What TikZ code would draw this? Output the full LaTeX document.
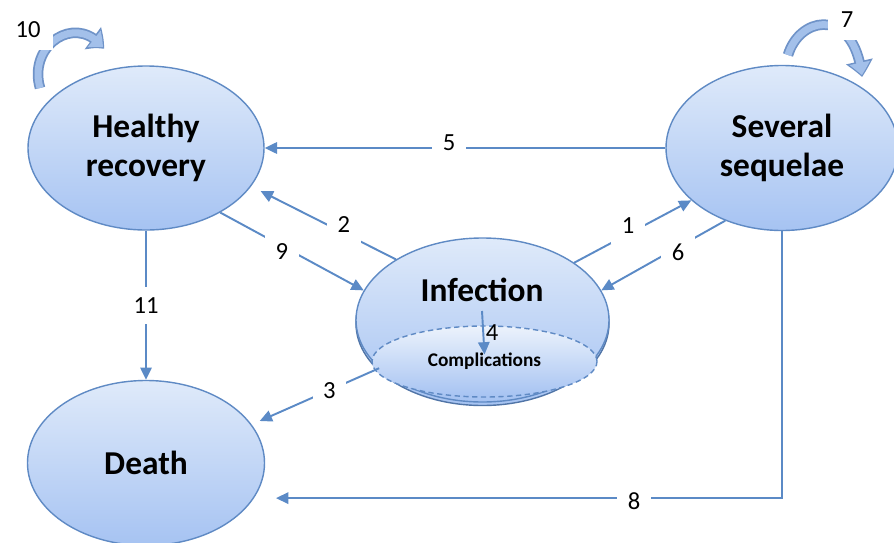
\documentclass[tikz,border=0pt]{standalone}
\usepackage{fontspec}
\setmainfont{Carlito}
\usetikzlibrary{shapes.geometric,arrows.meta,bending,positioning}

\definecolor{linecol}{HTML}{5B8AC6}
\definecolor{rimcol}{HTML}{5F8AC4}
\definecolor{topcol}{HTML}{DFEAFA}
\definecolor{botcol}{HTML}{A6C3F2}
\definecolor{loopfill}{HTML}{A3C0EA}
\definecolor{loopedge}{HTML}{6F93C8}

\tikzset{
  state/.style={ellipse, draw=rimcol, line width=0.8pt, top color=topcol, bottom color=botcol,
    align=center, inner sep=0pt, font=\fontsize{19}{22}\selectfont\bfseries},
  flow/.style={draw=linecol, line width=1.1pt, -{Triangle[length=7pt,width=6.5pt]}},
  num/.style={fill=white, inner sep=6pt, font=\fontsize{14}{14}\selectfont},
  selfrim/.style={draw=loopedge, line width=6pt, -{Triangle[length=9pt,width=15pt,bend]}},
  selfcore/.style={draw=loopfill, line width=4pt, -{Triangle[length=7pt,width=11.5pt,bend]}, shorten >=1.1pt}
}

\begin{document}
\begin{tikzpicture}
\useasboundingbox (0,0) rectangle (17.88,10.84);

% states
\node[state, minimum width=4.72cm, minimum height=3.28cm] (hr) at (2.92,7.88) {Healthy\\recovery};
\node[state, minimum width=4.64cm, minimum height=3.3cm] (sq) at (15.64,7.88) {Several\\sequelae};
\node[state, minimum width=4.74cm, minimum height=3.3cm] (de) at (2.92,1.58) {Death};
\node[state, minimum width=5.06cm, minimum height=3.28cm, draw=rimcol!85!black] (infbase) at (9.65,4.37) {};
\node[state, minimum width=5.06cm, minimum height=3.28cm] (inf) at (9.65,4.44) {};
\node[state, minimum width=4.5cm, minimum height=1.42cm, dash pattern=on 3pt off 2pt,
  top color=topcol!60!white, font=\fontsize{11}{11}\selectfont\bfseries] (comp) at (9.69,3.61) {Complications};
\node[font=\fontsize{19}{22}\selectfont\bfseries, inner sep=0pt] (inftxt) at (9.64,5.04) {Infection};

% transitions
\draw[flow] (sq) -- (hr) node[num, pos=0.54, yshift=3pt] (n5) {5};
\draw[flow, shorten >=6pt] (inf.145) -- (hr.-20) node[num, pos=0.36, yshift=5pt] (n2) {2};
\draw[flow] (hr.-41) -- (inf.166) node[num, pos=0.43, yshift=-3pt] (n9) {9};
\draw[flow] (inf.32) -- (sq.210) node[num, pos=0.46, yshift=5pt] (n1) {1};
\draw[flow] (sq.232) -- (inf.14) node[num, pos=0.38, yshift=-3pt] (n6) {6};
\draw[flow, shorten >=5pt] (inf.205) -- (de.20) node[num, pos=0.39] (n3) {3};
\draw[flow] (hr) -- (de) node[num, midway] (n11) {11};
\draw[flow, shorten >=12.5pt] (sq.south) |- (de.-18) node[num, pos=0.64, yshift=-1.5pt] (n8) {8};
\draw[flow] ([yshift=-5pt]inftxt.south) -- ([yshift=4pt]comp.center)
  node[anchor=west, inner sep=1pt, midway, font=\fontsize{14}{14}\selectfont] (n4) {4};

% self loops
\coordinate (l10s) at (0.8,9.08);
\coordinate (l10e) at (2.08,9.86);
\draw[selfrim] (l10s) .. controls (0.55,9.96) and (1.55,10.6) .. (l10e);
\draw[selfcore] (l10s) .. controls (0.55,9.96) and (1.55,10.6) .. (l10e);
\node[num, inner sep=7pt] (n10) at (0.56,10.24) {10};

\coordinate (l7s) at (15.76,9.74);
\coordinate (l7e) at (17.24,9.3);
\draw[selfrim] (l7s) .. controls (16.0,10.54) and (17.1,10.7) .. (l7e);
\draw[selfcore] (l7s) .. controls (16.0,10.54) and (17.1,10.7) .. (l7e);
\node[num, inner sep=7pt] (n7) at (16.94,10.44) {7};
\end{tikzpicture}
\end{document}
